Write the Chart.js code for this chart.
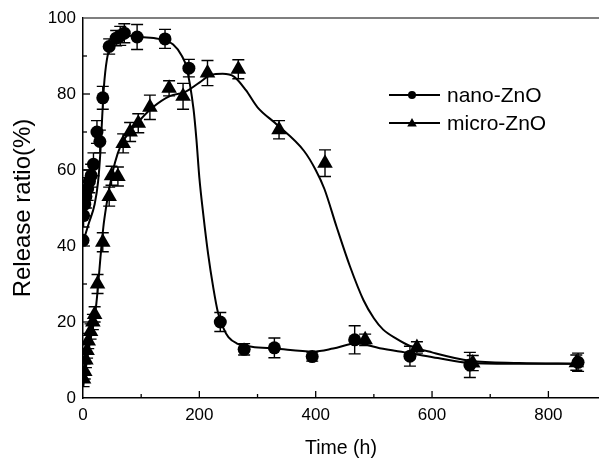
<!DOCTYPE html>
<html><head><meta charset="utf-8">
<script src="https://cdn.jsdelivr.net/npm/chart.js@4.4.0/dist/chart.umd.min.js"></script>
<style>html,body{margin:0;padding:0;background:#fff}</style>
</head><body>
<canvas id="c" width="599" height="460"></canvas>
<script>
// ---- data ----
const seriesNames = ['nano-ZnO', 'micro-ZnO'];
const xTitle = 'Time (h)';
const yTitle = 'Release ratio(%)';
const xTicks = [0, 200, 400, 600, 800];
const yTicks = [0, 20, 40, 60, 80, 100];

const nanoX   = [0, 1, 3, 5, 8, 11, 14, 18, 24, 29, 34, 45, 57, 64, 71, 93, 141, 182, 236, 277, 329, 394, 467, 562, 665, 851];
const nanoY   = [41.5, 48, 51, 53, 55, 57, 58.5, 61.5, 70, 67.5, 79, 92.5, 94.7, 95.3, 96, 95, 94.5, 86.8, 20, 12.8, 13.2, 10.9, 15.3, 11, 8.7, 9.4];
const nanoErr = [0, 3, 3, 3, 3, 3, 3, 3, 3, 3, 3, 2, 2, 2.5, 2.5, 3.3, 2.5, 2.3, 2.5, 1.5, 2.6, 1.2, 3.7, 2.6, 3.3, 2.4];

const microX   = [1, 3, 5, 7, 9, 13, 17, 20, 25, 34, 45, 49, 60, 69, 81, 95, 115, 148, 172, 214, 267, 337, 416, 485, 574, 670, 848];
const microY   = [5, 7, 10, 12.5, 15, 17.5, 20, 22, 30, 41, 53, 58.5, 58.3, 67, 70, 72.3, 76.5, 81.5, 79.4, 85.5, 86.5, 70.6, 61.8, 15.3, 13.3, 9.2, 9.3];
const microErr = [2, 2, 2, 2, 2, 2, 2, 2, 2.5, 2.5, 2.5, 2.5, 2.5, 2.5, 2.5, 2.5, 3.2, 2, 3.4, 3.3, 2.5, 2.4, 3.5, 1.5, 1.5, 2, 2];

const nanoCurveX = [0, 10, 20, 26, 30, 33, 36, 41, 50, 60, 80, 100, 130, 155, 170, 178, 190, 195, 200, 207, 215, 224, 232, 241, 250, 264, 290, 330, 396, 430, 470, 510, 562, 610, 665, 750, 850];
const nanoCurveY = [41, 46, 51, 57, 65, 74, 82, 89, 93.5, 95, 95.3, 95, 94.5, 93, 90, 87, 76, 68, 58, 48, 38, 29, 22.5, 18.5, 16, 14.4, 13.5, 13, 12.2, 13, 14.4, 13.1, 11.8, 10.5, 9.2, 9, 9];

const microCurveX = [0, 5, 10, 15, 20, 25, 30, 35, 40, 45, 55, 65, 80, 100, 120, 150, 175, 200, 220, 240, 260, 280, 300, 333, 380, 400, 415, 436, 459, 482, 500, 516, 540, 562, 600, 665, 750, 850];
const microCurveY = [3, 8, 13, 17, 21, 28, 37, 45, 50.5, 55, 62, 66.5, 70, 73.5, 76.5, 79.5, 80.5, 83, 85, 85.3, 84.5, 81, 76.5, 72, 65, 60, 55, 45, 34.6, 25.8, 21, 18, 15.5, 13.7, 12, 9.8, 9.2, 9];

const pts = (xs, ys) => xs.map((v, i) => ({x: v, y: ys[i]}));
const FONT = 'Liberation Sans, Arial, sans-serif';

const decor = {
  id: 'decor',
  beforeDatasetsDraw(chart) {
    const {ctx, chartArea: a, scales: {x, y}} = chart;
    ctx.save();
    ctx.beginPath(); ctx.rect(a.left, a.top, a.right - a.left, a.bottom - a.top); ctx.clip();
    ctx.strokeStyle = '#000'; ctx.lineWidth = 1.4;
    [[nanoX, nanoY, nanoErr], [microX, microY, microErr]].forEach(([xs, ys, es]) => {
      xs.forEach((xv, i) => {
        if (!es[i]) return;
        const px = x.getPixelForValue(xv);
        const y1 = y.getPixelForValue(ys[i] + es[i]);
        const y2 = y.getPixelForValue(ys[i] - es[i]);
        ctx.beginPath();
        ctx.moveTo(px, y1); ctx.lineTo(px, y2);
        ctx.moveTo(px - 6, y1); ctx.lineTo(px + 6, y1);
        ctx.moveTo(px - 6, y2); ctx.lineTo(px + 6, y2);
        ctx.stroke();
      });
    });
    ctx.restore();
  },
  afterDraw(chart) {
    const {ctx, chartArea: a, scales: {x, y}} = chart;
    ctx.save();
    // top frame line
    ctx.strokeStyle = '#555'; ctx.lineWidth = 1.5;
    ctx.beginPath(); ctx.moveTo(a.left, a.top); ctx.lineTo(chart.width, a.top); ctx.stroke();
    // inward ticks
    ctx.strokeStyle = '#000'; ctx.lineWidth = 1.3;
    for (let v = 100; v <= 800; v += 100) {
      const px = x.getPixelForValue(v), len = v % 200 === 0 ? 7 : 4;
      ctx.beginPath(); ctx.moveTo(px, a.bottom); ctx.lineTo(px, a.bottom - len); ctx.stroke();
    }
    for (let v = 10; v <= 90; v += 10) {
      const py = y.getPixelForValue(v), len = v % 20 === 0 ? 7 : 4;
      ctx.beginPath(); ctx.moveTo(a.left, py); ctx.lineTo(a.left + len, py); ctx.stroke();
    }
    // legend
    const rows = [95, 123];
    ctx.fillStyle = '#000'; ctx.strokeStyle = '#000'; ctx.lineWidth = 2;
    rows.forEach((ry, i) => {
      ctx.beginPath(); ctx.moveTo(389, ry); ctx.lineTo(440, ry); ctx.stroke();
      ctx.beginPath();
      if (i === 0) { ctx.arc(412, ry, 4, 0, Math.PI * 2); }
      else { ctx.moveTo(412, ry - 5); ctx.lineTo(416.8, ry + 3.5); ctx.lineTo(407.2, ry + 3.5); ctx.closePath(); }
      ctx.fill();
      ctx.font = '21px ' + FONT; ctx.textBaseline = 'middle'; ctx.textAlign = 'left';
      ctx.fillText(seriesNames[i], 447, ry + 1);
    });
    ctx.restore();
  }
};

new Chart(document.getElementById('c'), {
  type: 'scatter',
  data: {
    datasets: [
      {label: seriesNames[0] + ' fit', data: pts(nanoCurveX, nanoCurveY), showLine: true, pointRadius: 0,
       borderColor: '#000', borderWidth: 2, cubicInterpolationMode: 'monotone', clip: 0},
      {label: seriesNames[1] + ' fit', data: pts(microCurveX, microCurveY), showLine: true, pointRadius: 0,
       borderColor: '#000', borderWidth: 2, cubicInterpolationMode: 'monotone', clip: 0},
      {label: seriesNames[0], data: pts(nanoX, nanoY), pointStyle: 'circle', pointRadius: 6.5,
       backgroundColor: '#000', borderColor: '#000', borderWidth: 0, clip: 0},
      {label: seriesNames[1], data: pts(microX, microY), pointStyle: 'triangle', pointRadius: 9,
       backgroundColor: '#000', borderColor: '#000', borderWidth: 0, clip: 0}
    ]
  },
  options: {
    responsive: false, animation: false, devicePixelRatio: 1,
    layout: {autoPadding: false, padding: {top: 18, right: 0, left: 0, bottom: 0}},
    plugins: {legend: {display: false}, tooltip: {enabled: false}},
    scales: {
      x: {
        type: 'linear', min: 0, max: 887,
        afterBuildTicks: s => { s.ticks = xTicks.map(v => ({value: v})); },
        afterFit: s => { s.height = 62; s.paddingLeft = 0; s.paddingRight = 0; },
        grid: {display: true, drawOnChartArea: false, drawTicks: false},
        border: {display: true, color: '#000', width: 1.5},
        ticks: {padding: 7, color: '#000', maxRotation: 0, font: {family: FONT, size: 17}},
        title: {display: true, text: xTitle, color: '#000', font: {family: FONT, size: 19.5}, padding: {top: 0, bottom: 0}}
      },
      y: {
        type: 'linear', min: 0, max: 100,
        afterBuildTicks: s => { s.ticks = yTicks.map(v => ({value: v})); },
        afterFit: s => { s.width = 83; s.paddingTop = 0; s.paddingBottom = 0; },
        grid: {display: true, drawOnChartArea: false, drawTicks: false},
        border: {display: true, color: '#000', width: 1.5},
        ticks: {padding: 7, color: '#000', font: {family: FONT, size: 17}},
        title: {display: true, text: yTitle, color: '#000', font: {family: FONT, size: 24}, padding: {top: 9, bottom: 0}}
      }
    }
  },
  plugins: [decor]
});
</script>
</body></html>
